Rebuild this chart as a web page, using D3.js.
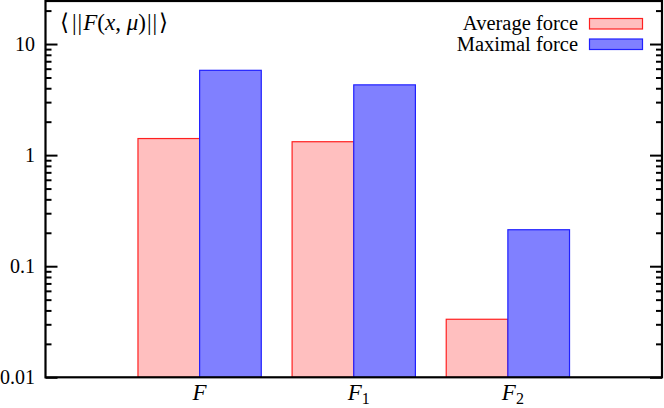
<!DOCTYPE html>
<html>
<head>
<meta charset="utf-8">
<script src="https://cdn.jsdelivr.net/npm/d3@7"></script>
<style>
    body { margin: 0; background: #fff; }
    svg text { font-family: "Liberation Serif", "Times New Roman", "DejaVu Serif", serif; fill: #000; }
</style>
</head>
<body>
<svg id="chart" width="664" height="408"></svg>
<script>
// data
var categories = ["F", "F1", "F2"];
var averageForce = [1.41, 1.32, 0.0333];
var maximalForce = [5.8, 4.29, 0.213];
var yTickValues = [0.01, 0.1, 1, 10];
var yTickLabels = ["0.01", "0.1", "1", "10"];
var seriesNames = ["Average force", "Maximal force"];

var svg = d3.select("#chart");
// note: "top" is taken by window.top, so plot edges get their own names
var plotLeft = 45.5, plotRight = 662, plotTop = 1, plotBottom = 377.3;

var x = d3.scaleLinear().domain([-1, 3]).range([plotLeft, plotRight]);
var y = d3.scaleLog().domain([0.01, 24.4]).range([plotBottom, plotTop]);

var barW = 0.4;
var series = [
    { name: seriesNames[0], values: averageForce, offset: -barW, fill: "#ffbfbf", stroke: "#ff2020" },
    { name: seriesNames[1], values: maximalForce, offset: 0, fill: "#8080ff", stroke: "#2020ff" }
];

// bars
series.forEach(function (s) {
    svg.append("g")
        .selectAll("rect")
        .data(s.values)
        .enter().append("rect")
        .attr("x", function (d, i) { return x(i + s.offset); })
        .attr("width", x(barW) - x(0))
        .attr("y", function (d) { return y(d); })
        .attr("height", function (d) { return plotBottom - y(d); })
        .attr("fill", s.fill)
        .attr("stroke", s.stroke)
        .attr("stroke-width", 1.2);
});

// minor + major ticks, left and mirrored on right
var minorTicks = [];
for (var e = -2; e <= 1; e++) {
    for (var m = 2; m <= 9; m++) {
        var v = m * Math.pow(10, e);
        if (v < 24.4) minorTicks.push(v);
    }
}

var leftAxis = d3.axisRight(y).tickValues(yTickValues).tickSize(12).tickFormat("");
var leftMinor = d3.axisRight(y).tickValues(minorTicks).tickSize(6).tickFormat("");
var rightAxis = d3.axisLeft(y).tickValues(yTickValues).tickSize(12).tickFormat("");
var rightMinor = d3.axisLeft(y).tickValues(minorTicks).tickSize(6).tickFormat("");

[[leftAxis, plotLeft], [leftMinor, plotLeft], [rightAxis, plotRight], [rightMinor, plotRight]].forEach(function (a) {
    var g = svg.append("g").attr("transform", "translate(" + a[1] + ",0)").call(a[0]);
    g.select(".domain").remove();
    g.selectAll("line").attr("stroke", "#000").attr("stroke-width", 2);
});

// frame
svg.append("rect")
    .attr("x", plotLeft).attr("y", plotTop)
    .attr("width", plotRight - plotLeft).attr("height", plotBottom - plotTop)
    .attr("fill", "none").attr("stroke", "#000").attr("stroke-width", 2.2);

// y tick labels
svg.append("g")
    .selectAll("text")
    .data(yTickValues)
    .enter().append("text")
    .attr("x", 35)
    .attr("y", function (d) { return y(d) + 7; })
    .attr("text-anchor", "end")
    .attr("font-size", 20)
    .text(function (d, i) { return yTickLabels[i]; });

// x labels with subscripts
var xl = svg.append("g")
    .selectAll("text")
    .data(categories)
    .enter().append("text")
    .attr("x", function (d, i) { return x(i) + (d.length > 1 ? 5 : 0); })
    .attr("y", 400)
    .attr("text-anchor", "middle")
    .attr("font-size", 23);
xl.append("tspan").attr("font-style", "italic").text("F");
xl.append("tspan")
    .attr("font-size", 16)
    .attr("dy", 4)
    .text(function (d) { return d.slice(1); });

// y title
var title = svg.append("text").attr("x", 60).attr("y", 30).attr("font-size", 23);
title.append("tspan").text("\u27E8");
title.append("tspan").attr("dx", 3).text("|");
title.append("tspan").attr("dx", 1).text("|");
title.append("tspan").attr("dx", 1).attr("font-style", "italic").text("F");
title.append("tspan").text("(");
title.append("tspan").attr("font-style", "italic").text("x");
title.append("tspan").text(", ");
title.append("tspan").attr("font-style", "italic").text("\u03BC");
title.append("tspan").text(")");
title.append("tspan").attr("dx", 1).text("|");
title.append("tspan").attr("dx", 1).text("|");
title.append("tspan").attr("dx", 2).text("\u27E9");

// legend
var legend = svg.append("g")
    .selectAll("g")
    .data(series)
    .enter().append("g")
    .attr("transform", function (d, i) { return "translate(0," + (i * 20.5) + ")"; });
legend.append("text")
    .attr("x", 578).attr("y", 30)
    .attr("text-anchor", "end")
    .attr("font-size", 20.5)
    .text(function (d) { return d.name; });
legend.append("rect")
    .attr("x", 589.5).attr("y", 18.5)
    .attr("width", 53).attr("height", 10.5)
    .attr("fill", function (d) { return d.fill; })
    .attr("stroke", function (d) { return d.stroke; })
    .attr("stroke-width", 1.2);
</script>
</body>
</html>
